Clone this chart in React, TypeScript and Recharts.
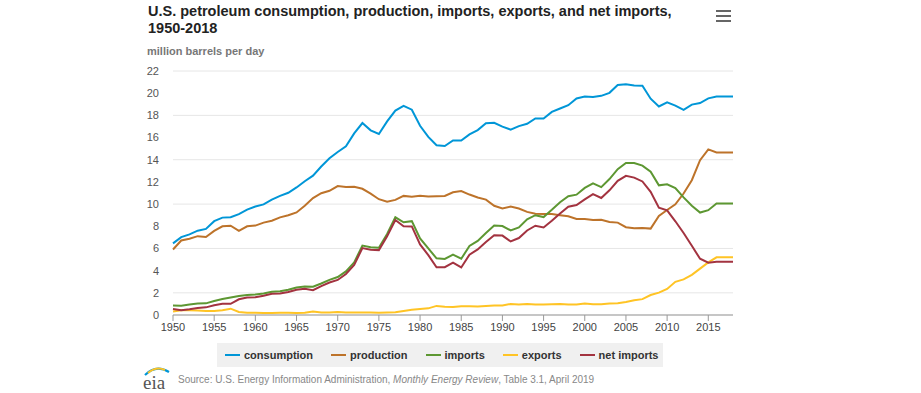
import React from 'react'
import { LineChart, Line, XAxis, YAxis, CartesianGrid } from 'recharts'

const years = [
  1950, 1951, 1952, 1953, 1954, 1955, 1956, 1957, 1958, 1959,
  1960, 1961, 1962, 1963, 1964, 1965, 1966, 1967, 1968, 1969,
  1970, 1971, 1972, 1973, 1974, 1975, 1976, 1977, 1978, 1979,
  1980, 1981, 1982, 1983, 1984, 1985, 1986, 1987, 1988, 1989,
  1990, 1991, 1992, 1993, 1994, 1995, 1996, 1997, 1998, 1999,
  2000, 2001, 2002, 2003, 2004, 2005, 2006, 2007, 2008, 2009,
  2010, 2011, 2012, 2013, 2014, 2015, 2016, 2017, 2018,
]

const consumption = [
  6.46, 7.02, 7.27, 7.6, 7.76, 8.46, 8.78, 8.81, 9.1, 9.5,
  9.78, 9.97, 10.4, 10.74, 11.02, 11.5, 12.06, 12.56, 13.39, 14.14,
  14.7, 15.21, 16.37, 17.31, 16.65, 16.32, 17.46, 18.43, 18.85, 18.51,
  17.06, 16.06, 15.3, 15.23, 15.73, 15.73, 16.28, 16.67, 17.28, 17.33,
  16.99, 16.71, 17.03, 17.24, 17.72, 17.72, 18.31, 18.62, 18.92, 19.52,
  19.7, 19.65, 19.76, 20.03, 20.73, 20.8, 20.69, 20.68, 19.5, 18.8,
  19.18, 18.88, 18.49, 18.97, 19.11, 19.53, 19.69, 19.69, 19.69,
]

const production = [
  5.91, 6.72, 6.87, 7.11, 7.03, 7.58, 8.0, 8.05, 7.58, 8.0,
  8.06, 8.33, 8.5, 8.8, 9.0, 9.25, 9.85, 10.54, 10.98, 11.2,
  11.63, 11.55, 11.56, 11.38, 10.95, 10.44, 10.21, 10.38, 10.74, 10.67,
  10.75, 10.68, 10.71, 10.74, 11.07, 11.17, 10.86, 10.6, 10.4, 9.85,
  9.6, 9.78, 9.6, 9.3, 9.13, 9.1, 9.1, 9.0, 8.9, 8.65,
  8.66, 8.57, 8.58, 8.39, 8.33, 7.92, 7.82, 7.85, 7.79, 8.93,
  9.47, 9.98, 10.95, 12.15, 13.96, 14.93, 14.65, 14.65, 14.65,
]

const imports = [
  0.85, 0.84, 0.95, 1.03, 1.05, 1.26, 1.44, 1.58, 1.72, 1.8,
  1.85, 1.94, 2.09, 2.14, 2.27, 2.48, 2.58, 2.55, 2.84, 3.17,
  3.42, 3.93, 4.74, 6.26, 6.11, 6.06, 7.31, 8.81, 8.36, 8.46,
  6.91, 6.0, 5.11, 5.05, 5.44, 5.07, 6.22, 6.68, 7.4, 8.06,
  8.02, 7.63, 7.89, 8.62, 9.0, 8.83, 9.48, 10.16, 10.71, 10.85,
  11.46, 11.87, 11.53, 12.26, 13.15, 13.71, 13.71, 13.47, 12.92, 11.69,
  11.79, 11.44, 10.6, 9.86, 9.24, 9.45, 10.06, 10.06, 10.06,
]

const exportsSeries = [
  0.31, 0.42, 0.43, 0.4, 0.36, 0.37, 0.43, 0.57, 0.28, 0.21,
  0.2, 0.17, 0.17, 0.21, 0.2, 0.19, 0.2, 0.31, 0.23, 0.23,
  0.26, 0.22, 0.22, 0.23, 0.22, 0.21, 0.22, 0.24, 0.36, 0.47,
  0.54, 0.6, 0.82, 0.74, 0.72, 0.78, 0.78, 0.76, 0.82, 0.86,
  0.86, 1.0, 0.95, 1.0, 0.94, 0.95, 0.98, 1.0, 0.95, 0.94,
  1.04, 0.97, 0.98, 1.03, 1.05, 1.17, 1.32, 1.43, 1.8, 2.02,
  2.35, 2.99, 3.21, 3.62, 4.18, 4.74, 5.2, 5.2, 5.2,
]

const netImports = [
  0.55, 0.43, 0.52, 0.63, 0.69, 0.88, 1.01, 1.01, 1.42, 1.57,
  1.61, 1.74, 1.91, 1.93, 2.07, 2.28, 2.37, 2.24, 2.61, 2.93,
  3.16, 3.7, 4.52, 6.03, 5.89, 5.85, 7.09, 8.57, 8.0, 7.99,
  6.36, 5.4, 4.3, 4.31, 4.72, 4.29, 5.44, 5.91, 6.59, 7.2,
  7.16, 6.63, 6.94, 7.62, 8.05, 7.89, 8.5, 9.16, 9.76, 9.91,
  10.42, 10.9, 10.55, 11.24, 12.1, 12.55, 12.39, 12.04, 11.11, 9.67,
  9.44, 8.45, 7.39, 6.24, 5.07, 4.71, 4.8, 4.8, 4.8,
]

const xTicks = [1950, 1955, 1960, 1965, 1970, 1975, 1980, 1985, 1990, 1995, 2000, 2005, 2010, 2015]
const yTicks = [0, 2, 4, 6, 8, 10, 12, 14, 16, 18, 20, 22]

const seriesInfo = [
  { key: 'consumption', name: 'consumption', color: '#0096d7' },
  { key: 'production', name: 'production', color: '#bd732a' },
  { key: 'imports', name: 'imports', color: '#5d9732' },
  { key: 'exports', name: 'exports', color: '#ffc425' },
  { key: 'netImports', name: 'net imports', color: '#a33340' },
]

const data = years.map((year, i) => ({
  year,
  consumption: consumption[i],
  production: production[i],
  imports: imports[i],
  exports: exportsSeries[i],
  netImports: netImports[i],
}))

const font = '"Liberation Sans", Arial, sans-serif'

function EiaLogo() {
  return (
    <svg width={30} height={32} style={{ position: 'absolute', left: 142, top: 362 }}>
      <path d="M3 13 Q14 2 27 10" stroke="#0096d7" strokeWidth={2.2} fill="none" />
      <path d="M6 11 Q14 4 23 8" stroke="#ffc425" strokeWidth={2} fill="none" />
      <text x={1} y={27} fontFamily='"Liberation Serif", serif' fontSize={19} fill="#555">eia</text>
    </svg>
  )
}

export default function App() {
  return (
    <div style={{ position: 'absolute', left: 0, top: 0, width: 921, height: 393, background: '#fff', fontFamily: font }}>
      <div style={{ position: 'absolute', left: 148, top: 3, fontSize: 14.5, fontWeight: 'bold', color: '#222', lineHeight: '17px' }}>
        U.S. petroleum consumption, production, imports, exports, and net imports,<br />1950-2018
      </div>
      <div style={{ position: 'absolute', left: 716, top: 10 }}>
        {[0, 5, 10].map(t => (
          <div key={t} style={{ position: 'absolute', left: 0, top: t, width: 15, height: 2, background: '#666' }} />
        ))}
      </div>
      <div style={{ position: 'absolute', left: 147, top: 45, fontSize: 11, fontWeight: 'bold', color: '#777' }}>
        million barrels per day
      </div>

      <LineChart
        width={921}
        height={393}
        data={data}
        margin={{ top: 71, right: 188, bottom: 48, left: 143 }}
        style={{ position: 'absolute', left: 0, top: 0 }}
      >
        <CartesianGrid horizontal vertical={false} stroke="#e6e6e6" />
        <XAxis
          dataKey="year"
          type="number"
          domain={[1950, 2018]}
          ticks={xTicks}
          height={30}
          stroke="#999"
          tickSize={6}
          tickMargin={2}
          tick={{ fill: '#444', fontSize: 11, fontFamily: font }}
        />
        <YAxis
          domain={[0, 22]}
          ticks={yTicks}
          width={30}
          axisLine={false}
          tickLine={false}
          tickSize={0}
          tickMargin={14}
          tick={{ fill: '#555', fontSize: 11, fontFamily: font }}
        />
        {seriesInfo.map(s => (
          <Line
            key={s.key}
            type="linear"
            dataKey={s.key}
            name={s.name}
            stroke={s.color}
            strokeWidth={2}
            dot={false}
            isAnimationActive={false}
          />
        ))}
      </LineChart>

      <div style={{ position: 'absolute', left: 217, top: 343, width: 446, height: 24, background: '#f0f0f0', display: 'flex', alignItems: 'center', paddingLeft: 8, boxSizing: 'border-box', whiteSpace: 'nowrap' }}>
        {seriesInfo.map(s => (
          <div key={s.key} style={{ display: 'flex', alignItems: 'center', marginRight: 18 }}>
            <div style={{ width: 15, height: 2, background: s.color, marginRight: 4 }} />
            <span style={{ fontSize: 11, fontWeight: 'bold', color: '#333' }}>{s.name}</span>
          </div>
        ))}
      </div>

      <EiaLogo />
      <div style={{ position: 'absolute', left: 178, top: 374, fontSize: 10, color: '#888' }}>
        Source: U.S. Energy Information Administration, <i>Monthly Energy Review</i>, Table 3.1, April 2019
      </div>
    </div>
  )
}
